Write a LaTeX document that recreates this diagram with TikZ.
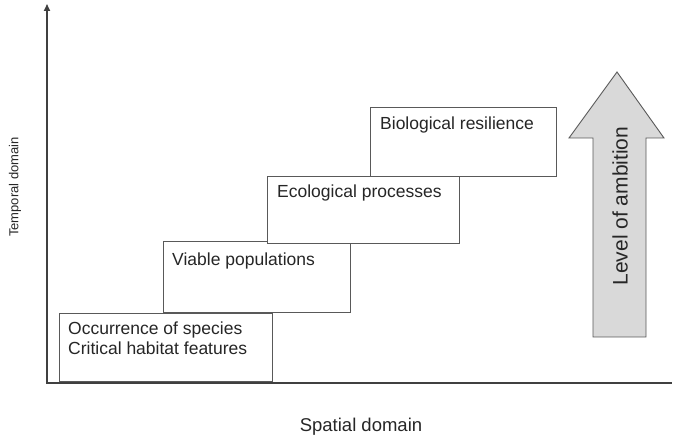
\documentclass[tikz,border=0pt]{standalone}
\usepackage{fontspec}
\setmainfont{Liberation Sans}
\usetikzlibrary{arrows.meta, positioning}

\begin{document}
\begin{tikzpicture}[x=1pt, y=-1pt,
    axis/.style={draw=black!75, line width=1.6pt},
    stepbox/.style={draw=black!65, line width=0.9pt, fill=white, anchor=north west,
                    inner sep=0pt},
    txt/.style={anchor=base west, inner sep=0pt, align=left,
                font=\fontsize{17.5}{20}\selectfont, text=black!85},
    lbl/.style={inner sep=0pt, text=black!85},
    ambition/.style={draw=black!65, line width=0.9pt, fill=black!15, line join=miter}
]
    \useasboundingbox (0,0) rectangle (681,438);

    % axes
    \coordinate (origin) at (47,383);
    \coordinate (ytop) at (47,4);
    \coordinate (xend) at (672,383);
    \draw[axis, -{Triangle[length=7pt, width=6pt]}] (origin) -- (ytop);
    \draw[axis] ([xshift=-0.8pt]origin) -- (xend);
    \node[lbl, rotate=90, font=\fontsize{13}{15}\selectfont] (temporal) at (15,187) {Temporal domain};
    \node[lbl, anchor=base, font=\fontsize{18.5}{20}\selectfont] (spatial) at (361,432) {Spatial domain};

    % steps
    \node[stepbox, minimum width=213pt, minimum height=68pt] (occ) at (59,313) {};
    \node[stepbox, minimum width=187pt, minimum height=71pt] (viable) at (163,241) {};
    \node[stepbox, minimum width=192pt, minimum height=67pt] (eco) at (267,176) {};
    \node[stepbox, minimum width=186pt, minimum height=69pt] (bio) at (370,107) {};

    % last baseline of the two-line text
    \node[txt] (occT) at ([shift={(9,42)}]occ.north west)
        {Occurrence of species\\Critical habitat features};
    \node[txt] (viableT) at ([shift={(9,25)}]viable.north west) {Viable populations};
    \node[txt] (ecoT) at ([shift={(10,22)}]eco.north west) {Ecological processes};
    \node[txt] (bioT) at ([shift={(10,23)}]bio.north west) {Biological resilience};

    % level of ambition
    \draw[ambition] (593,337) -- (593,138) -- (569,138) -- (617,72) -- (664,138)
        -- (646,138) -- (646,337) -- cycle;
    \node[lbl, rotate=90, font=\fontsize{21}{24}\selectfont] (level) at (620,206) {Level of ambition};
\end{tikzpicture}
\end{document}
